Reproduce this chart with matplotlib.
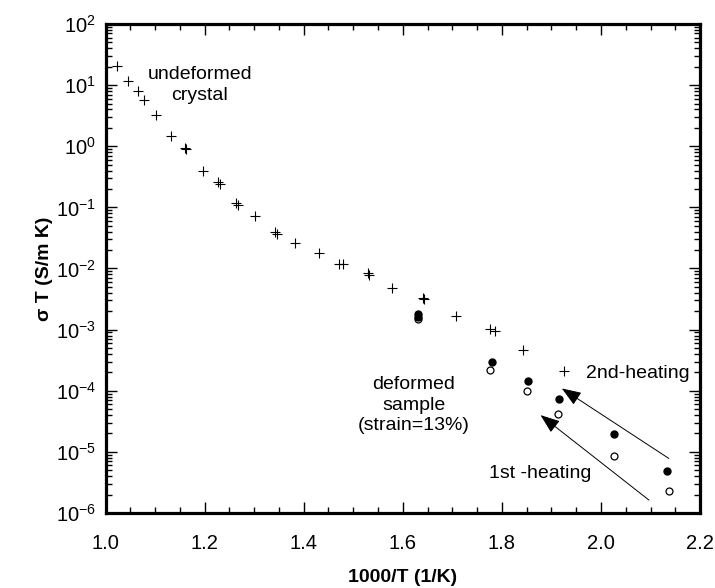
import numpy as np
import matplotlib.pyplot as plt
from matplotlib.ticker import LogLocator, MultipleLocator, NullFormatter

plt.rcParams['font.family'] = ['Liberation Sans', 'DejaVu Sans']
plt.rcParams['mathtext.fontset'] = 'custom'
plt.rcParams['mathtext.rm'] = 'Liberation Sans'

# undeformed crystal (+)
x_undef = [1.023, 1.046, 1.065, 1.078, 1.102, 1.132, 1.160, 1.163, 1.197, 1.228,
           1.232, 1.264, 1.267, 1.302, 1.342, 1.346, 1.383, 1.430, 1.472, 1.480,
           1.530, 1.532, 1.579, 1.641, 1.643, 1.708, 1.777, 1.787, 1.842, 1.925]
y_undef = [20.6, 11.8, 8.0, 5.7, 3.3, 1.47, 0.95, 0.89, 0.39, 0.26,
           0.24, 0.12, 0.11, 0.073, 0.040, 0.036, 0.0264, 0.0177, 0.0117, 0.0117,
           0.0083, 0.0078, 0.0048, 0.0033, 0.0032, 0.00168, 0.00101, 0.00095, 0.00046, 0.00021]

# deformed sample, 2nd heating (filled)
x_2nd = [1.630, 1.630, 1.781, 1.853, 1.916, 2.026, 2.134]
y_2nd = [0.00182, 0.00163, 3.0e-4, 1.42e-4, 7.2e-5, 1.95e-5, 4.9e-6]

# deformed sample, 1st heating (open)
x_1st = [1.630, 1.777, 1.851, 1.914, 2.026, 2.138]
y_1st = [0.00150, 2.2e-4, 9.8e-5, 4.1e-5, 8.7e-6, 2.3e-6]

fig = plt.figure(figsize=(7.15, 5.88), dpi=100)
ax = fig.add_axes([0.1476, 0.1276, 0.8315, 0.8316])

ax.plot(x_undef, y_undef, '+', color='black', ms=6.5, mew=0.8)
ax.plot(x_1st, y_1st, 'o', mfc='white', mec='black', ms=5, mew=0.9)
ax.plot(x_2nd, y_2nd, 'o', color='black', ms=5)

ax.set_yscale('log')
ax.set_xlim(1.0, 2.2)
ax.set_ylim(1e-6, 1e2)

ax.xaxis.set_major_locator(MultipleLocator(0.2))
ax.xaxis.set_minor_locator(MultipleLocator(0.05))
ax.xaxis.set_major_formatter(plt.FuncFormatter(lambda v, p: f'{v:.1f}'))
ax.yaxis.set_major_locator(LogLocator(base=10, numticks=20))
ax.yaxis.set_minor_locator(LogLocator(base=10, subs=np.arange(2, 10), numticks=20))
ax.yaxis.set_minor_formatter(NullFormatter())

ax.tick_params(which='both', direction='in', top=True, right=True, labelsize=14.5, width=1.0)
ax.tick_params(which='major', length=8)
ax.tick_params(which='minor', length=4)
ax.tick_params(axis='x', pad=15)
ax.tick_params(axis='y', pad=7)
for s in ax.spines.values():
    s.set_linewidth(2.3)

ax.set_xlabel('1000/T (1/K)', fontsize=14, fontweight='bold', labelpad=12)
ax.set_ylabel('σ T (S/m K)', fontsize=14, fontweight='bold', labelpad=2)

ax.text(1.19, 10.2, 'undeformed\ncrystal', fontsize=14, ha='center', va='center', linespacing=1.3)
ax.text(1.622, 5.8e-5, 'deformed\nsample\n(strain=13%)', fontsize=14, ha='center', va='center', linespacing=1.25)
ax.text(1.970, 1.9e-4, '2nd-heating', fontsize=14, ha='left', va='center')
ax.text(1.773, 4.4e-6, '1st -heating', fontsize=14, ha='left', va='center')

arrow = dict(arrowstyle='-|>,head_length=1.2,head_width=0.45', color='black', lw=0.7, shrinkA=0, shrinkB=0)
ax.annotate('', xy=(1.921, 10**-3.962), xytext=(2.137, 10**-5.108), arrowprops=arrow)
ax.annotate('', xy=(1.878, 10**-4.399), xytext=(2.097, 10**-5.79), arrowprops=arrow)

fig.savefig('out.png', dpi=100)
